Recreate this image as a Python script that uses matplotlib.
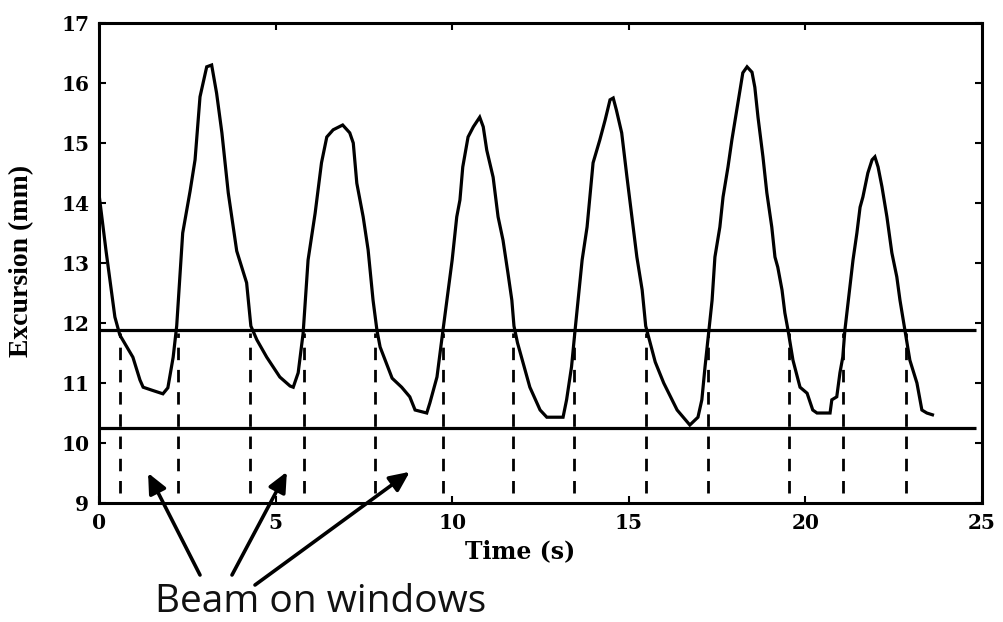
import matplotlib
matplotlib.use("Agg")
import matplotlib.pyplot as plt
import numpy as np

# Respiratory excursion trace
time_s = [0, 0.2, 0.45, 0.59, 0.96, 1.16, 1.25, 1.5, 1.81, 1.95, 2.1, 2.2, 2.37, 2.58, 2.72, 2.86,
          3.05, 3.19, 3.33, 3.48, 3.66, 3.9, 4.18, 4.3, 4.47, 4.75, 5.12, 5.41, 5.5, 5.64, 5.78,
          5.92, 6.12, 6.2, 6.3, 6.45, 6.63, 6.9, 7.1, 7.2, 7.3, 7.48, 7.62, 7.76, 7.87, 7.96, 8.3,
          8.57, 8.8, 8.95, 9.28, 9.37, 9.57, 9.74, 10.0, 10.13, 10.22, 10.3, 10.45, 10.6, 10.78,
          10.88, 10.98, 11.16, 11.3, 11.44, 11.58, 11.69, 11.75, 11.85, 12.2, 12.49, 12.68, 13.14,
          13.24, 13.38, 13.48, 13.68, 13.82, 13.99, 14.18, 14.33, 14.47, 14.56, 14.65, 14.8, 14.95,
          15.09, 15.23, 15.38, 15.48, 15.75, 15.99, 16.37, 16.73, 16.96, 17.07, 17.16, 17.27, 17.36,
          17.44, 17.58, 17.67, 17.81, 17.92, 18.06, 18.15, 18.23, 18.35, 18.49, 18.57, 18.66, 18.8,
          18.91, 19.05, 19.14, 19.22, 19.34, 19.42, 19.51, 19.65, 19.85, 20.05, 20.21, 20.33, 20.7,
          20.75, 20.89, 20.98, 21.06, 21.12, 21.26, 21.35, 21.46, 21.55, 21.63, 21.77, 21.89, 21.97,
          22.06, 22.17, 22.31, 22.45, 22.59, 22.68, 22.82, 22.96, 23.16, 23.3, 23.44, 23.6]
excursion_mm = [14.15, 13.2, 12.1, 11.8, 11.43, 11.05, 10.93, 10.88, 10.82, 10.92, 11.43, 11.95, 13.5,
                14.2, 14.72, 15.77, 16.27, 16.3, 15.83, 15.17, 14.17, 13.2, 12.67, 11.95, 11.72, 11.43,
                11.1, 10.95, 10.93, 11.17, 11.83, 13.05, 13.83, 14.2, 14.67, 15.1, 15.22, 15.3, 15.17,
                15.0, 14.33, 13.77, 13.22, 12.38, 11.88, 11.6, 11.08, 10.93, 10.77, 10.55, 10.5, 10.67,
                11.1, 11.88, 13.05, 13.77, 14.05, 14.6, 15.1, 15.27, 15.43, 15.27, 14.88, 14.43, 13.77,
                13.38, 12.83, 12.38, 11.95, 11.67, 10.93, 10.55, 10.43, 10.43, 10.72, 11.27, 11.88,
                13.05, 13.6, 14.67, 15.05, 15.38, 15.72, 15.75, 15.55, 15.17, 14.43, 13.77, 13.1, 12.55,
                11.95, 11.35, 11.0, 10.55, 10.3, 10.43, 10.72, 11.27, 11.88, 12.38, 13.1, 13.6, 14.1,
                14.6, 15.05, 15.55, 15.88, 16.17, 16.27, 16.18, 15.93, 15.43, 14.77, 14.17, 13.6, 13.1,
                12.93, 12.55, 12.17, 11.88, 11.38, 10.93, 10.83, 10.55, 10.5, 10.5, 10.72, 10.77, 11.17,
                11.43, 11.88, 12.6, 13.05, 13.5, 13.93, 14.1, 14.5, 14.72, 14.77, 14.6, 14.27, 13.77,
                13.17, 12.77, 12.38, 11.88, 11.38, 11.0, 10.55, 10.5, 10.47]

# Gating thresholds and window edges
upper_threshold = 11.88
lower_threshold = 10.25
window_edges = [0.59, 2.24, 4.28, 5.80, 7.81, 9.74, 11.72, 13.45, 15.49, 17.24, 19.54, 21.06, 22.85]
arrow_heads = [(1.39, 9.5), (5.32, 9.52), (8.8, 9.52)]

x_ticks = [0, 5, 10, 15, 20, 25]
y_ticks = [9, 10, 11, 12, 13, 14, 15, 16, 17]

fig = plt.figure(figsize=(10.04, 6.22), dpi=100)
ax = fig.add_axes([0.0986, 0.1913, 0.8794, 0.7717])

ax.plot(time_s, excursion_mm, color="black", lw=2.3, solid_joinstyle="miter")
ax.hlines([upper_threshold, lower_threshold], 0, 24.83, color="black", lw=2.3)
ax.vlines(window_edges, 9.17, upper_threshold - 0.05, color="black", lw=2.0,
          linestyles=(0, (4.5, 3.5)))

ax.set_xlim(0, 25)
ax.set_ylim(9, 17)
ax.set_xticks(x_ticks)
ax.set_yticks(y_ticks)
tick_font = dict(family="DejaVu Serif", weight="bold", size=14.5)
ax.set_xticklabels([str(v) for v in x_ticks], fontdict=tick_font)
ax.set_yticklabels([str(v) for v in y_ticks], fontdict=tick_font)
ax.tick_params(direction="in", length=5, width=1.5, top=True, right=True, pad=7, colors="black")
for s in ax.spines.values():
    s.set_linewidth(2.2)

ax.set_xlabel("Time (s)", family="DejaVu Serif", weight="bold", size=17)
ax.xaxis.set_label_coords(0.477, -0.075)
ax.set_ylabel("Excursion (mm)", family="Liberation Serif", weight="bold", size=20)
ax.yaxis.set_label_coords(-0.073, 0.505)

# Arrows pointing at the beam-on windows
tails = [(200, 47), (232, 47), (255, 37)]
for (hx, hy), (tx, ty) in zip(arrow_heads, tails):
    ax.annotate("", xy=(hx, hy), xycoords="data",
                xytext=(tx, ty), textcoords="figure pixels",
                arrowprops=dict(arrowstyle="-|>,head_length=1.2,head_width=0.55",
                                color="black", lw=2.6, shrinkA=0, shrinkB=0),
                annotation_clip=False)

fig.text(0.319, 0.001, "Beam on windows", family="Open Sans", size=28,
         ha="center", va="bottom", color="#111111")

fig.savefig("out.png", dpi=100)
